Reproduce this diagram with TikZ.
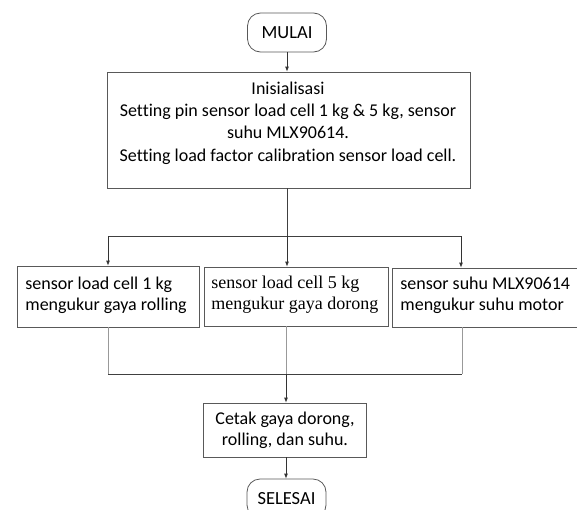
\documentclass[tikz,border=0pt]{standalone}
\usepackage{fontspec}
\setmainfont[RawFeature={-liga}]{Carlito}
\newfontfamily\serifx{Liberation Serif}
\usetikzlibrary{arrows.meta}
\begin{document}
\begin{tikzpicture}[x=1pt,y=-1pt,
  line width=0.8pt,
  term/.style={draw=black!65, rounded corners=13pt, minimum width=79pt, minimum height=39pt, inner sep=0pt, font=\fontsize{18.5}{22}\selectfont},
  procbox/.style={draw=black!65, inner sep=0pt},
  txt/.style={inner sep=0pt, font=\fontsize{18}{21}\selectfont},
  arr/.style={draw=black!80, -{Latex[length=5pt,width=4pt]}},
  ln/.style={draw=black!75},
  lnl/.style={draw=black!40}]
\clip (0,0) rectangle (577,509);
\useasboundingbox (0,0) rectangle (577,509);
\fill[white] (0,0) rectangle (577,509);

\node[term] (mulai) at (287,32.5) {MULAI};

\node[procbox, minimum width=363pt, minimum height=116pt] (init) at (288.5,130) {};
\node[txt, align=center, font=\fontsize{18}{22.3}\selectfont] (inittxt) at (288,123)
  {Inisialisasi\\Setting pin sensor load cell 1 kg \& 5 kg, sensor\\suhu MLX90614.\\Setting load factor calibration sensor load cell.};

\node[procbox, minimum width=182pt, minimum height=61pt] (b1) at (108,296.5) {};
\node[txt, align=left, anchor=west, font=\fontsize{18}{21}\selectfont] (b1t) at (25,295) {sensor load cell 1 kg\\mengukur gaya rolling};

\node[procbox, minimum width=184pt, minimum height=59pt] (b2) at (296,296.5) {};
\node[txt, align=left, anchor=west, font=\serifx\fontsize{18}{21}\selectfont] (b2t) at (211,295) {sensor load cell 5 kg\\mengukur gaya dorong};

\node[procbox, minimum width=190pt, minimum height=59pt] (b3) at (487,297.5) {};
\node[txt, align=left, anchor=west, font=\fontsize{18}{21}\selectfont] (b3t) at (400,295) {sensor suhu MLX90614\\mengukur suhu motor};

\node[procbox, minimum width=163pt, minimum height=54pt, align=center, font=\fontsize{18}{21}\selectfont] (cetak) at (285,430) {Cetak gaya dorong,\\rolling, dan suhu.};

\node[term] (selesai) at (286.5,498.5) {SELESAI};

\coordinate (jt) at (287,236);
\coordinate (jl) at (108,236);
\coordinate (jr) at (461,236);
\coordinate (kt) at (286,374);
\coordinate (kl) at (108,374);
\coordinate (kr) at (462,374);

\draw[arr] (mulai.south) -- (init.north -| mulai.south);
\draw[ln] (init.south -| jt) -- (jt);
\draw[ln] (jl) -- (jr);
\draw[arr] (jl) -- (b1.north -| jl);
\draw[arr] (jt) -- (b2.north -| jt);
\draw[arr] (jr) -- (b3.north -| jr);
\draw[lnl] (b1.south -| kl) -- (kl);
\draw[lnl] (b2.south -| kt) -- (kt);
\draw[lnl] (b3.south -| kr) -- (kr);
\draw[ln] (kl) -- (kr);
\draw[arr] (kt) -- (cetak.north -| kt);
\draw[arr] (cetak.south -| kt) -- (selesai.north -| kt);
\end{tikzpicture}
\end{document}
